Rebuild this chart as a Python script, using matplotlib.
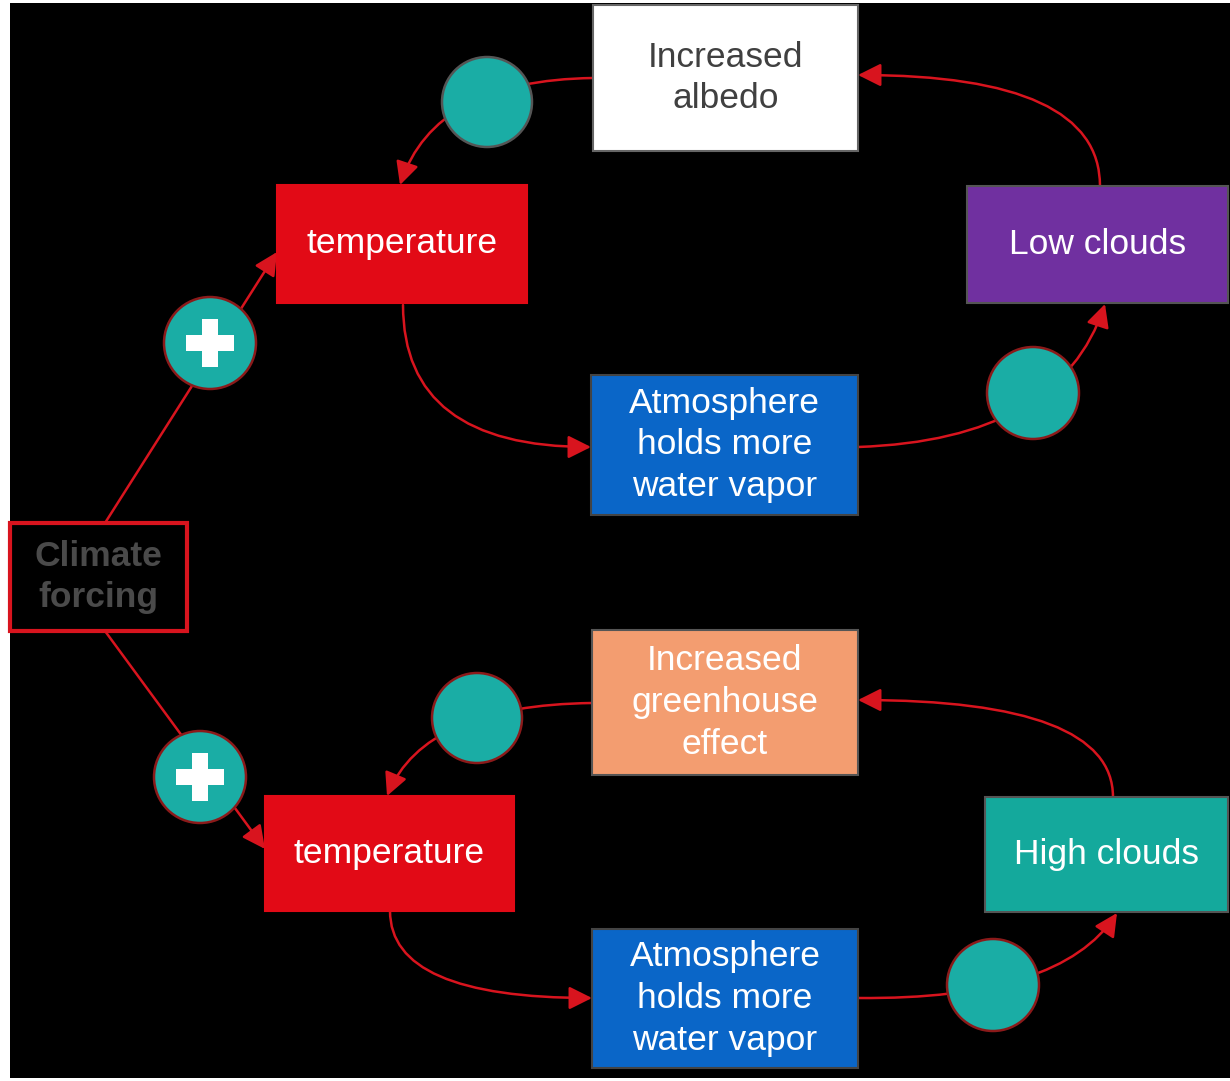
import matplotlib
matplotlib.use("Agg")
import matplotlib.pyplot as plt
from matplotlib.patches import Rectangle, Circle, FancyArrowPatch
from matplotlib.path import Path

plt.rcParams['font.family'] = ['Liberation Sans', 'DejaVu Sans']

W, H = 1230, 1081
RED = '#d8141e'
TEAL = '#1aada5'

# boxes: label, (x0, y0, x1, y1), face, edge, text colour, bold
box_labels = ["Increased\nalbedo", "temperature", "Low clouds", "Atmosphere\nholds more\nwater vapor",
              "Climate\nforcing", "Increased\ngreenhouse\neffect", "temperature", "High clouds",
              "Atmosphere\nholds more\nwater vapor"]
box_extents = [(593, 5, 858, 151), (277, 185, 527, 303), (967, 186, 1228, 303), (591, 375, 858, 515),
               (10, 523, 187, 631), (592, 630, 858, 775), (265, 796, 514, 911), (985, 797, 1228, 912),
               (592, 929, 858, 1068)]
box_faces = ['white', '#e20a16', '#7030a0', '#0a66c8', 'black', '#f39d70', '#e20a16', '#14a99c', '#0a66c8']
box_edges = ['#666666', '#e20a16', '#555555', '#444444', RED, '#555555', '#e20a16', '#555555', '#444444']
box_text_colors = ['#404040', 'white', 'white', 'white', '#4a4a4a', 'white', 'white', 'white', 'white']
box_bold = [False, False, False, False, True, False, False, False, False]

# feedback circles: centre, radius, has plus sign
circle_centers = [(487, 102), (210, 343), (1033, 393), (477, 718), (200, 777), (993, 985)]
circle_radius = [45, 46, 46, 45, 46, 46]
circle_plus = [False, True, False, False, True, False]
circle_edges = ['#555555', '#8b1a1a', '#8b1a1a', '#8b1a1a', '#8b1a1a', '#8b1a1a']

# connectors: start, control (None = straight), end
arrows = [
    ((105, 523), None, (277, 252)),
    ((105, 631), None, (265, 849)),
    ((403, 305), (403, 447), (591, 447)),
    ((858, 447), (1060, 440), (1105, 304)),
    ((1100, 186), (1100, 75), (858, 75)),
    ((593, 78), (435, 80), (400, 185)),
    ((390, 911), (390, 998), (592, 998)),
    ((858, 998), (1060, 1000), (1117, 913)),
    ((1113, 797), (1113, 700), (858, 700)),
    ((592, 703), (425, 705), (387, 796)),
]

fig = plt.figure(figsize=(W / 100, H / 100), dpi=100)
fig.patch.set_facecolor('white')
ax = fig.add_axes([0, 0, 1, 1])
ax.set_xlim(0, W)
ax.set_ylim(H, 0)
ax.axis('off')

ax.add_patch(Rectangle((10, 3), W - 10, 1075, facecolor='black', edgecolor='none', zorder=0))

for start, ctrl, end in arrows:
    if ctrl is None:
        p = Path([start, end], [Path.MOVETO, Path.LINETO])
    else:
        p = Path([start, ctrl, end], [Path.MOVETO, Path.CURVE3, Path.CURVE3])
    ax.add_patch(FancyArrowPatch(path=p, arrowstyle='-|>,head_length=0.5,head_width=0.25',
                                 mutation_scale=28, color=RED, lw=1.8, zorder=2))

for lab, (x0, y0, x1, y1), fc, ec, tc, b in zip(box_labels, box_extents, box_faces, box_edges,
                                                  box_text_colors, box_bold):
    lw = 3 if lab.startswith("Climate") else 1.5
    ax.add_patch(Rectangle((x0, y0), x1 - x0, y1 - y0, facecolor=fc, edgecolor=ec, lw=lw, zorder=3))
    ax.text((x0 + x1) / 2, (y0 + y1) / 2, lab, ha='center', va='center', color=tc,
            fontsize=25.5, fontweight='bold' if b else 'normal', linespacing=1.33, zorder=4)

for (cx, cy), r, plus, ec in zip(circle_centers, circle_radius, circle_plus, circle_edges):
    ax.add_patch(Circle((cx, cy), r, facecolor=TEAL, edgecolor=ec, lw=1.8, zorder=5))
    if plus:
        ax.plot([cx], [cy], marker='P', markersize=35, color='white', markeredgewidth=0, zorder=6)

fig.savefig('out.png', dpi=100, facecolor='white')
